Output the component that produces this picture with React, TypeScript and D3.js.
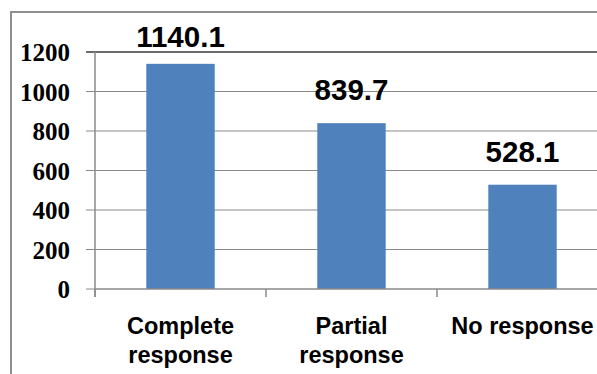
import React from "react";
import * as d3 from "d3";

const categories: string[][] = [["Complete", "response"], ["Partial", "response"], ["No response"]];
const values: number[] = [1140.1, 839.7, 528.1];
const valueLabels: string[] = ["1140.1", "839.7", "528.1"];
const yTicks: number[] = [0, 200, 400, 600, 800, 1000, 1200];

export default function App() {
  const W = 597, H = 374;
  const left = 95, right = 608, top = 52, bottom = 289;
  const keys = categories.map((c) => c.join(" "));
  const x = d3.scaleBand<string>().domain(keys).range([left, right]).padding(0);
  const y = d3.scaleLinear().domain([0, 1200]).range([bottom, top]);
  const bw = x.bandwidth() / 2.5;
  const ticksX = [left, ...keys.map((k) => (x(k) as number) + x.bandwidth())];

  return (
    <svg width={W} height={H} style={{ position: "absolute", left: 0, top: 0, background: "#fff" }}>
      <rect x={0} y={0} width={W} height={H} fill="#fff" />
      <rect x={11} y={12} width={800} height={600} fill="none" stroke="#8f8f8f" strokeWidth={2} />
      {yTicks.map((t) => (
        <g key={t}>
          {t > 0 && (
            <line x1={86} x2={W} y1={y(t)} y2={y(t)}
              stroke={t === 1200 ? "#3a3a3a" : "#8a8a8a"} strokeWidth={t === 1200 ? 1.5 : 1} />
          )}
          {t === 0 && <line x1={86} x2={left} y1={y(t)} y2={y(t)} stroke="#8a8a8a" strokeWidth={1} />}
          <text x={70} y={y(t)} dy="0.36em" textAnchor="end"
            style={{ fontFamily: "'Times New Roman', 'Liberation Serif', 'DejaVu Serif', 'Noto Serif', Times, serif" }}
            fontWeight="bold" fontSize={25} fill="#000">
            {t}
          </text>
        </g>
      ))}
      {keys.map((k, i) => {
        const cx = (x(k) as number) + x.bandwidth() / 2;
        const yt = y(values[i]);
        const ly = Math.max(yt - 23, top - 5);
        return (
          <g key={k}>
            <rect x={cx - bw / 2} y={yt} width={bw} height={bottom - yt} fill="#4f81bd" />
            <text x={cx} y={ly} textAnchor="middle"
              fontFamily="Liberation Sans, Arial, sans-serif" fontWeight="bold" fontSize={29.5} fill="#000">
              {valueLabels[i]}
            </text>
            {categories[i].map((line, j) => (
              <text key={j} x={cx} y={334 + j * 29} textAnchor="middle"
                fontFamily="Liberation Sans, Arial, sans-serif" fontWeight="bold" fontSize={23.5} fill="#000">
                {line}
              </text>
            ))}
          </g>
        );
      })}
      <line x1={left} x2={W} y1={bottom} y2={bottom} stroke="#8a8a8a" strokeWidth={1.5} />
      <line x1={left} x2={left} y1={top} y2={297} stroke="#8a8a8a" strokeWidth={1.5} />
      {ticksX.map((tx, i) => (
        <line key={i} x1={tx} x2={tx} y1={bottom} y2={297} stroke="#8a8a8a" strokeWidth={1.5} />
      ))}
    </svg>
  );
}
